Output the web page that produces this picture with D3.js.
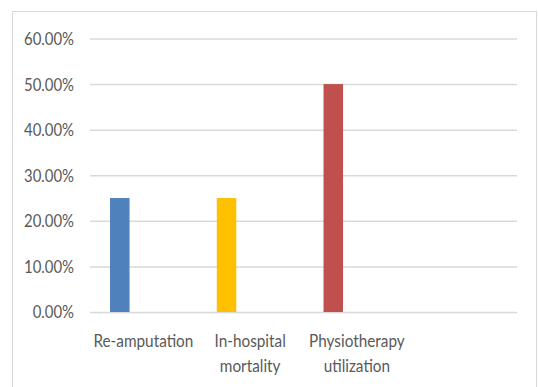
<!DOCTYPE html>
<html>
<head>
<meta charset="utf-8">
<script src="https://cdn.jsdelivr.net/npm/d3@7"></script>
<style>
  html, body { margin: 0; padding: 0; background: #fff; }
  svg { display: block; }
  text { font-family: Lato, "Open Sans", sans-serif; fill: #595959; }
</style>
</head>
<body>
<svg id="chart" width="538" height="387"></svg>
<script>
// Outcome categories (the fourth slot is an empty category)
const categories = ["Re-amputation", "In-hospital mortality", "Physiotherapy utilization", ""];
const labelLines = [["Re-amputation"], ["In-hospital", "mortality"], ["Physiotherapy", "utilization"], []];
const values = [0.25, 0.25, 0.50];
const colors = ["#4f81bd", "#ffc000", "#c0504d"];
const yTicks = [0, 0.1, 0.2, 0.3, 0.4, 0.5, 0.6];

const svg = d3.select("#chart");

// condensed look: squeeze each label horizontally by a fixed ratio
function condense(sel, ratio) {
  sel.each(function () {
    const w = this.getComputedTextLength();
    d3.select(this).attr("textLength", w * ratio).attr("lengthAdjust", "spacingAndGlyphs");
  });
}

// chart area frame
svg.append("rect")
  .attr("x", 12.5).attr("y", 11.5)
  .attr("width", 524).attr("height", 400)
  .attr("fill", "#fff").attr("stroke", "#d9d9d9").attr("stroke-width", 1);

const plot = { left: 90, right: 517, top: 38.5, bottom: 312 };

const x = d3.scaleBand()
  .domain(categories)
  .range([plot.left, plot.right]);

const y = d3.scaleLinear()
  .domain([0, 0.6])
  .range([plot.bottom, plot.top]);

// horizontal gridlines + tick labels
const yAxis = d3.axisLeft(y)
  .tickValues(yTicks)
  .tickSize(-(plot.right - plot.left))
  .tickPadding(16)
  .tickFormat(d => (d * 100).toFixed(2) + "%");

const gy = svg.append("g")
  .attr("transform", `translate(${plot.left},0)`)
  .call(yAxis);
gy.select(".domain").remove();
gy.selectAll(".tick line").attr("stroke", "#d9d9d9").attr("stroke-width", 1.5);
const tickText = gy.selectAll(".tick text")
  .attr("font-size", 16.5)
  .attr("dy", "0.36em")
  .style("font-family", "Lato, 'Open Sans', sans-serif")
  .attr("fill", "#595959");
const tickRatio = 50 / gy.selectAll(".tick text").filter(d => d === 0.6).node().getComputedTextLength();
condense(tickText, tickRatio);

// bars: first series slot within each category band
const barWidth = 19.5;
const seriesOffset = -23.6;
svg.append("g").selectAll("rect")
  .data(values)
  .join("rect")
  .attr("x", (d, i) => x(categories[i]) + x.bandwidth() / 2 + seriesOffset - barWidth / 2)
  .attr("y", d => y(d))
  .attr("width", barWidth)
  .attr("height", d => y(0) - y(d))
  .attr("fill", (d, i) => colors[i]);

// category labels
const gx = svg.append("g").attr("font-size", 18);
categories.forEach((c, i) => {
  const cx = x(c) + x.bandwidth() / 2;
  labelLines[i].forEach((line, j) => {
    gx.append("text")
      .attr("class", "xlab")
      .attr("x", cx)
      .attr("y", 346.7 + j * 25)
      .attr("text-anchor", "middle")
      .text(line);
  });
});
const xLabels = gx.selectAll("text.xlab");
const xRatio = 100 / xLabels.filter(function () { return this.textContent === "Re-amputation"; }).node().getComputedTextLength();
condense(xLabels, xRatio);
</script>
</body>
</html>
